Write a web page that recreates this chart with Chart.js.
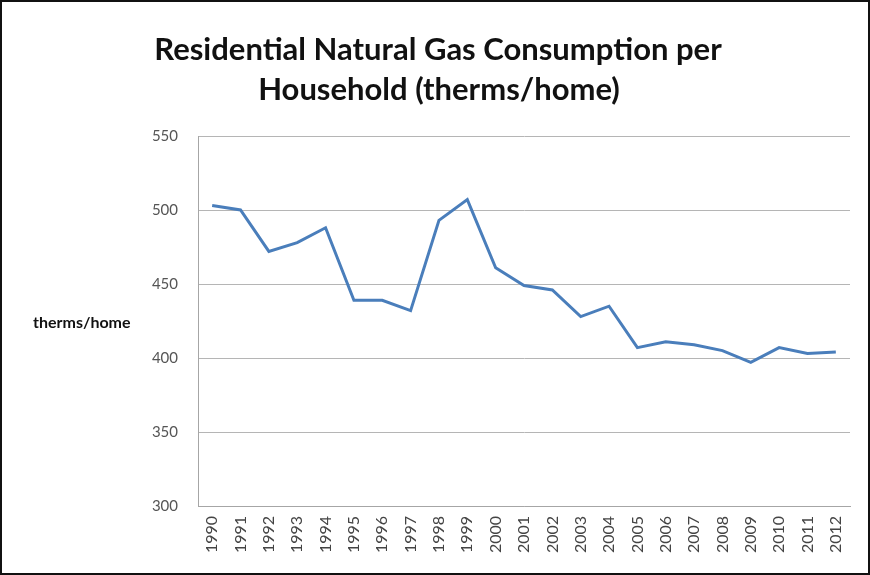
<!DOCTYPE html>
<html lang="en">
<head>
    <meta charset="UTF-8">
    <title>Residential Natural Gas Consumption per Household</title>
    <script src="https://cdn.jsdelivr.net/npm/chart.js"></script>
    <style>
        html, body { margin: 0; padding: 0; background: #fff; }
        .frame { position: relative; width: 870px; height: 575px; }
        .frame::after {
            content: ''; position: absolute; inset: 0;
            border: 2px solid #111; pointer-events: none;
        }
        canvas { display: block; }
    </style>
</head>
<body>
    <div class="frame">
        <canvas id="gasChart" width="870" height="575"></canvas>
    </div>
    <script>
        const years = ['1990','1991','1992','1993','1994','1995','1996','1997','1998','1999','2000',
                       '2001','2002','2003','2004','2005','2006','2007','2008','2009','2010','2011','2012'];
        const thermsPerHome = [503, 500, 472, 478, 488, 439, 439, 432, 493, 507, 461,
                               449, 446, 428, 435, 407, 411, 409, 405, 397, 407, 403, 404];
        const titleLines = ['Residential Natural Gas Consumption per', 'Household (therms/home)'];
        const yAxisLabel = 'therms/home';

        // titulo e rotulo do eixo desenhados a mao (rotulo fica na horizontal)
        const textPlugin = {
            id: 'textPlugin',
            afterDraw(chart) {
                const c = chart.ctx;
                c.save();
                c.fillStyle = '#111';
                c.textAlign = 'center';
                c.textBaseline = 'middle';
                c.font = 'bold 31px Lato';
                c.fillText(titleLines[0], 438, 50);
                c.fillText(titleLines[1], 439, 90);
                c.font = 'bold 16px Lato';
                c.textAlign = 'left';
                c.fillText(yAxisLabel, 33, 323);
                c.restore();
            }
        };

        const ctx = document.getElementById('gasChart').getContext('2d');
        new Chart(ctx, {
            type: 'line',
            data: {
                labels: years,
                datasets: [{
                    label: yAxisLabel,
                    data: thermsPerHome,
                    borderColor: '#4A7EBB',
                    borderWidth: 3,
                    pointRadius: 0,
                    tension: 0,
                    fill: false
                }]
            },
            options: {
                responsive: false,
                animation: false,
                layout: { padding: { top: 136, right: 20, left: 0, bottom: 0 } },
                plugins: {
                    legend: { display: false },
                    title: { display: false },
                    tooltip: { enabled: false }
                },
                scales: {
                    x: {
                        offset: true,
                        grid: { display: false, drawTicks: false },
                        border: { display: true, color: '#a6a6a6', width: 1 },
                        ticks: {
                            color: '#444',
                            font: { family: 'Lato', size: 16 },
                            maxRotation: 90, minRotation: 90,
                            autoSkip: false,
                            padding: 10
                        },
                        afterFit(scale) { scale.height = 69; }
                    },
                    y: {
                        min: 300, max: 550,
                        grid: { color: '#b5b5b5', lineWidth: 1, drawTicks: false },
                        border: { display: true, color: '#a6a6a6', width: 1 },
                        ticks: {
                            stepSize: 50,
                            color: '#555',
                            font: { family: 'Lato', size: 15 },
                            padding: 20
                        },
                        afterFit(scale) { scale.width = 198; }
                    }
                }
            },
            plugins: [textPlugin]
        });
    </script>
</body>
</html>
